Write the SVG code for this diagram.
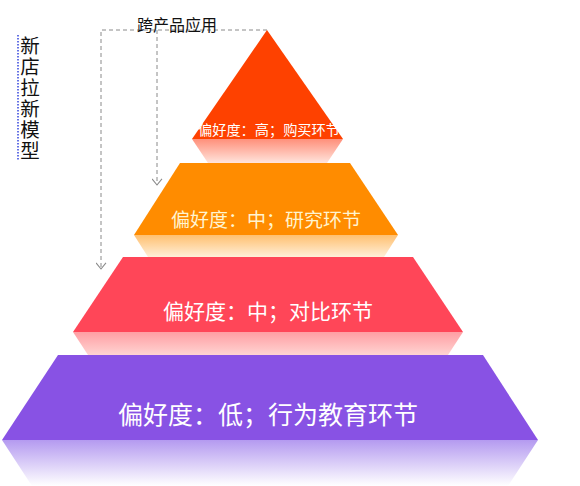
<svg xmlns="http://www.w3.org/2000/svg" width="580" height="486" viewBox="0 0 580 486">
<defs>
<style>
.lbl{font-family:"Noto Sans CJK SC","Liberation Sans",sans-serif;fill:#ffffff;text-anchor:middle;dominant-baseline:central}
.blk{font-family:"Noto Sans CJK SC","Liberation Sans",sans-serif;fill:#111111}
.dash{fill:none;stroke:#8a8a8a;stroke-width:1;stroke-dasharray:4 3}
</style>
<linearGradient id="gT" x1="0" y1="0" x2="0" y2="1"><stop offset="0" stop-color="#ff8f7a"/><stop offset="1" stop-color="#ffe4dc"/></linearGradient>
<linearGradient id="gO" x1="0" y1="0" x2="0" y2="1"><stop offset="0" stop-color="#ffc070"/><stop offset="1" stop-color="#ffefd9"/></linearGradient>
<linearGradient id="gR" x1="0" y1="0" x2="0" y2="1"><stop offset="0" stop-color="#ff9ea3"/><stop offset="1" stop-color="#ffd4d2"/></linearGradient>
<linearGradient id="gP" x1="0" y1="0" x2="0" y2="1"><stop offset="0" stop-color="#b49af0"/><stop offset="1" stop-color="#ffffff"/></linearGradient>
<marker id="chev" viewBox="0 0 10 10" refX="9" refY="5" markerWidth="11" markerHeight="11" markerUnits="userSpaceOnUse" orient="auto">
<path d="M3.5,0.5 L9,5 L3.5,9.5" fill="none" stroke="#8a8a8a" stroke-width="1"/>
</marker>
</defs>
<rect width="580" height="486" fill="#ffffff"/>

<g id="title">
<line x1="18" y1="35" x2="18" y2="160" stroke="#3344dd" stroke-width="1.5" stroke-dasharray="1.5 1.5"/>
<text class="blk" x="30" y="53" font-size="19.5" text-anchor="middle">新</text>
<text class="blk" x="30" y="74" font-size="19.5" text-anchor="middle">店</text>
<text class="blk" x="30" y="95" font-size="19.5" text-anchor="middle">拉</text>
<text class="blk" x="30" y="116" font-size="19.5" text-anchor="middle">新</text>
<text class="blk" x="30" y="137" font-size="19.5" text-anchor="middle">模</text>
<text class="blk" x="30" y="158" font-size="19.5" text-anchor="middle">型</text>
</g>

<g id="connectors">
<path class="dash" d="M267,30 H101 V269" marker-end="url(#chev)"/>
<path class="dash" d="M157,30 V185" marker-end="url(#chev)"/>
</g>

<g id="cross-label">
<text class="blk" x="177" y="24" font-size="16" text-anchor="middle" dominant-baseline="central">跨产品应用</text>
</g>

<g id="level-low">
<polygon points="2,440 538,440 508,486 32,486" fill="url(#gP)"/>
<polygon points="58,355 483,355 538,440 2,440" fill="#8852e4"/>
<text class="lbl" x="268" y="413" font-size="25">偏好度：低；行为教育环节</text>
</g>

<g id="level-mid-compare">
<polygon points="73,332 463,332 448,355 88,355" fill="url(#gR)"/>
<polygon points="123,257 413,257 463,332 73,332" fill="#ff4658"/>
<text class="lbl" x="268" y="310" font-size="21">偏好度：中；对比环节</text>
</g>

<g id="level-mid-research">
<polygon points="134,235 398,235 384,257 148,257" fill="url(#gO)"/>
<polygon points="180,163 350,163 398,235 134,235" fill="#ff8c00"/>
<text class="lbl" x="266" y="218" font-size="19" style="fill:#fff4d0">偏好度：中；研究环节</text>
</g>

<g id="level-high">
<polygon points="192,139 343,139 327,163 208,163" fill="url(#gT)"/>
<polygon points="267,30 343,139 192,139" fill="#fe4100"/>
<text class="lbl" x="269" y="129" font-size="14.2">偏好度：高；购买环节</text>
</g>
</svg>
